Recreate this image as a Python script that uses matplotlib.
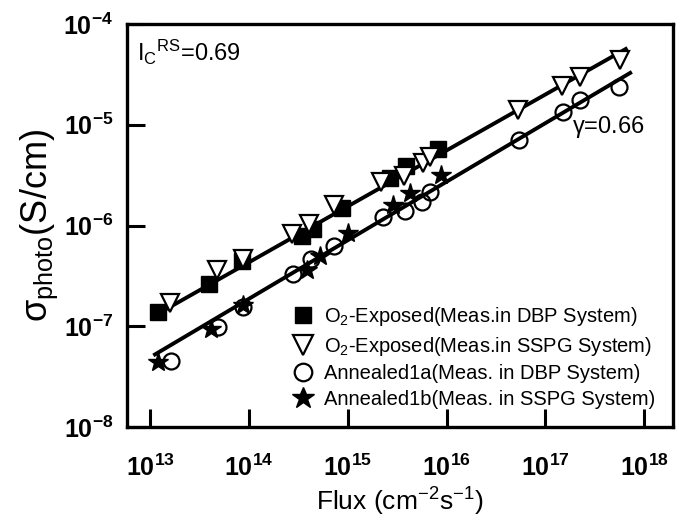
import math
import matplotlib
matplotlib.use("Agg")
import matplotlib.pyplot as plt
from matplotlib.ticker import FixedLocator, FuncFormatter, NullLocator

plt.rcParams['font.family'] = ['Liberation Sans', 'DejaVu Sans']
plt.rcParams['mathtext.fontset'] = 'custom'
plt.rcParams['mathtext.rm'] = 'Liberation Sans'
plt.rcParams['mathtext.it'] = 'Liberation Sans:italic'
plt.rcParams['mathtext.bf'] = 'Liberation Sans:bold'

# O2-exposed, measured in DBP system
sq_x = [1.2e13, 3.95e13, 8.5e13, 3.45e14, 4.46e14, 8.8e14, 2.69e15, 3.9e15, 8.2e15]
sq_y = [1.37e-7, 2.65e-7, 4.4e-7, 7.9e-7, 9.3e-7, 1.5e-6, 2.98e-6, 3.92e-6, 5.77e-6]

# O2-exposed, measured in SSPG system
tri_x = [1.6e13, 4.76e13, 8.7e13, 2.74e14, 4.07e14, 7.3e14, 2.18e15, 3.72e15,
         5.8e15, 6.82e15, 5.3e16, 1.48e17, 2.25e17, 5.7e17]
tri_y = [1.72e-7, 3.65e-7, 4.6e-7, 8.3e-7, 1.04e-6, 1.61e-6, 2.72e-6, 3.12e-6,
         4.19e-6, 4.81e-6, 1.41e-5, 2.43e-5, 2.99e-5, 4.4e-5]

# Annealed1a, measured in DBP system
cir_x = [1.63e13, 4.9e13, 8.7e13, 2.8e14, 4.2e14, 7.3e14, 2.28e15, 3.81e15,
         5.67e15, 6.82e15, 5.4e16, 1.51e17, 2.25e17, 5.6e17]
cir_y = [4.47e-8, 9.9e-8, 1.57e-7, 3.33e-7, 4.6e-7, 6.3e-7, 1.22e-6, 1.4e-6,
         1.72e-6, 2.16e-6, 7.08e-6, 1.34e-5, 1.77e-5, 2.38e-5]

# Annealed1b, measured in SSPG system
star_x = [1.2e13, 4.1e13, 8.7e13, 3.9e14, 5.26e14, 1.01e15, 2.88e15, 4.28e15, 8.8e15]
star_y = [4.37e-8, 9.3e-8, 1.64e-7, 3.65e-7, 5.0e-7, 8.5e-7, 1.61e-6, 2.11e-6, 3.19e-6]

# power-law fit lines (end points)
fit_up_x = [1.12e13, 6.5e17]
fit_up_y = [1.28e-7, 5.65e-5]
fit_lo_x = [1.12e13, 7.2e17]
fit_lo_y = [5.25e-8, 3.27e-5]

fig = plt.figure(figsize=(6.77, 5.22), dpi=100)
ax = fig.add_axes([0.1876, 0.182, 0.8064, 0.772])

ax.plot(fit_up_x, fit_up_y, color='black', lw=2.8, zorder=2)
ax.plot(fit_lo_x, fit_lo_y, color='black', lw=2.8, zorder=2)

ax.plot(sq_x, sq_y, 's', ms=11, color='black', zorder=3,
        label='O$_2$-Exposed(Meas.in DBP System)')
ax.plot(tri_x, tri_y, 'v', ms=13, mfc='white', mec='black', mew=1.6, zorder=3,
        label='O$_2$-Exposed(Meas.in SSPG System)')
ax.plot(cir_x, cir_y, 'o', ms=11.5, mfc='none', mec='black', mew=1.6, zorder=3,
        label='Annealed1a(Meas. in DBP System)')
ax.plot(star_x, star_y, '*', ms=15, color='black', zorder=3,
        label='Annealed1b(Meas. in SSPG System)')

ax.set_xscale('log')
ax.set_yscale('log')
ax.set_xlim(10 ** 12.766, 10 ** 18.29)
ax.set_ylim(1e-8, 1e-4)

ax.xaxis.set_major_locator(FixedLocator([1e13, 1e14, 1e15, 1e16, 1e17, 1e18]))
ax.yaxis.set_major_locator(FixedLocator([1e-8, 1e-7, 1e-6, 1e-5, 1e-4]))
ax.xaxis.set_minor_locator(NullLocator())
ax.yaxis.set_minor_locator(NullLocator())

def fmt(v, pos):
    e = int(round(math.log10(v)))
    return r'$\mathbf{10^{%d}}$' % e

ax.xaxis.set_major_formatter(FuncFormatter(fmt))
ax.yaxis.set_major_formatter(FuncFormatter(fmt))
ax.tick_params(which='major', direction='in', length=13, width=2.2,
               labelsize=18, pad=10)
ax.tick_params(axis='x', pad=20)
for s in ax.spines.values():
    s.set_linewidth(2.4)

ax.set_xlabel(r'Flux (cm$^\mathrm{-2}$s$^\mathrm{-1}$)', fontsize=19, labelpad=3)
ax.set_ylabel(r'$\mathrm{\sigma_{photo}}$(S/cm)', fontsize=26, labelpad=2)

ax.text(0.018, 0.965, r'I$_\mathrm{C}$$^\mathrm{RS}$=0.69', transform=ax.transAxes,
        fontsize=17, va='top', ha='left')
ax.text(0.815, 0.745, r'$\mathrm{\gamma}$=0.66', transform=ax.transAxes,
        fontsize=17, va='center', ha='left')

ax.legend(loc='lower right', bbox_to_anchor=(1.0, 0.0), frameon=False,
          fontsize=14.5, handletextpad=0.4, labelspacing=0.33,
          borderaxespad=0.6, handlelength=1.2, borderpad=0.3, markerscale=1.1)

fig.savefig('out.png', dpi=100)
